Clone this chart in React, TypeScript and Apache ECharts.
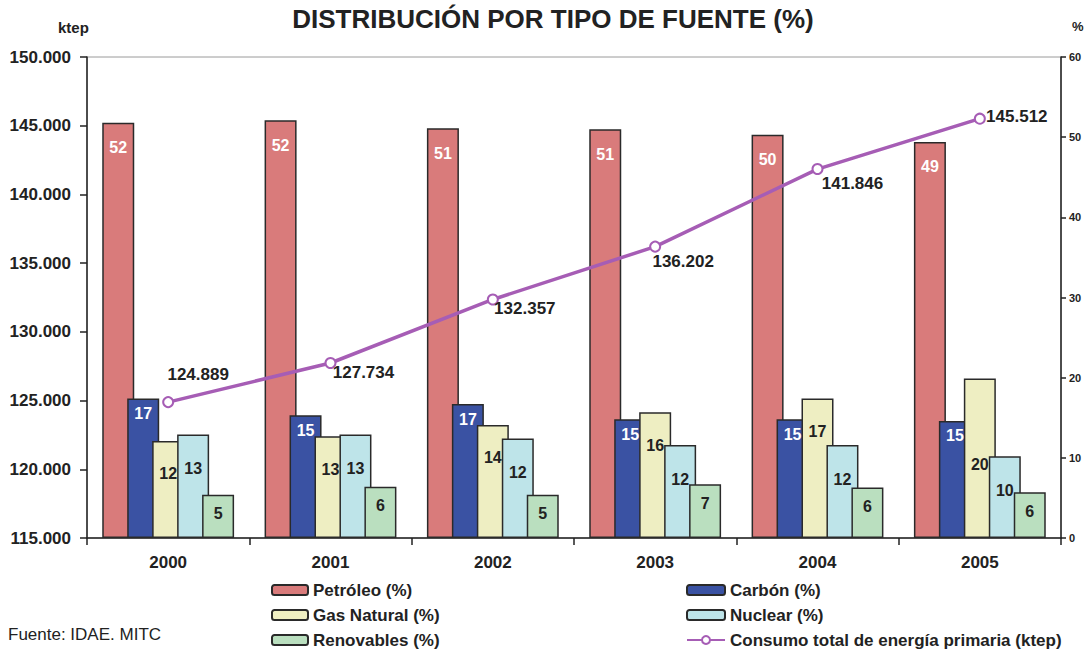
import React, { useEffect, useRef } from 'react';
import * as echarts from 'echarts';

const years = ['2000', '2001', '2002', '2003', '2004', '2005'];
const petroleo = [51.8, 52.1, 51.1, 51.0, 50.3, 49.4];
const carbon = [17.4, 15.3, 16.7, 14.8, 14.8, 14.6];
const gasNatural = [12.1, 12.7, 14.1, 15.7, 17.4, 19.9];
const nuclear = [12.9, 12.9, 12.4, 11.6, 11.6, 10.2];
const renovables = [5.4, 6.4, 5.4, 6.7, 6.3, 5.7];
const consumo = [124889, 127734, 132357, 136202, 141846, 145512];

const leftTicks = { min: 115000, max: 150000, interval: 5000 };
const rightTicks = { min: 0, max: 60, interval: 10 };

const FONT = '"Liberation Sans", Arial, Helvetica, sans-serif';
const INK = '#222';

const fmtThousands = (v: number) => {
  const s = String(Math.round(v));
  return s.replace(/\B(?=(\d{3})+(?!\d))/g, '.');
};

const lineLabelOffsets: [number, number][] = [
  [30, -28],
  [33, 10],
  [32, 9],
  [28, 15],
  [35, 14],
  [37, -2],
];

export default function App() {
  const ref = useRef<HTMLDivElement>(null);

  useEffect(() => {
    if (!ref.current) return;
    const chart = echarts.init(ref.current, undefined, { renderer: 'svg' });

    const barBase = (name: string, data: number[], color: string, labelColor: string, labelDist: number) => ({
      name,
      type: 'bar',
      yAxisIndex: 1,
      barWidth: 32,
      barGap: '-22%',
      barCategoryGap: '18%',
      data,
      itemStyle: { color, borderColor: '#2a2a2a', borderWidth: 1.5 },
      label: {
        show: true,
        position: 'insideTop',
        distance: labelDist,
        color: labelColor,
        fontFamily: FONT,
        fontSize: 16,
        fontWeight: 'bold',
        formatter: (p: any) => String(Math.round(p.value)),
      },
    });

    const gasSeries: any = barBase('Gas Natural (%)', gasNatural, '#EEEEC2', INK, 25);
    gasSeries.data = gasNatural.map((v, i) =>
      i === gasNatural.length - 1 ? { value: v, label: { position: 'inside', offset: [0, 6] } } : v
    );

    const legendText = { fontFamily: FONT, fontSize: 17, fontWeight: 'bold', color: INK, lineHeight: 18 };

    const option: any = {
      animation: false,
      backgroundColor: '#ffffff',
      textStyle: { fontFamily: FONT },
      grid: {
        left: 87,
        right: 29,
        top: 57,
        bottom: 113,
        show: true,
        borderColor: '#9a9a9a',
        borderWidth: 1,
        backgroundColor: 'transparent',
      },
      graphic: [
        {
          type: 'text',
          x: 553,
          y: 6,
          style: {
            text: 'DISTRIBUCIÓN POR TIPO DE FUENTE (%)',
            fill: INK,
            font: `bold 26px ${FONT}`,
            align: 'center',
          },
        },
        {
          type: 'text',
          x: 58,
          y: 20,
          style: { text: 'ktep', fill: INK, font: `bold 15px ${FONT}` },
        },
        {
          type: 'text',
          x: 1072,
          y: 20,
          style: { text: '%', fill: INK, font: `bold 13px ${FONT}` },
        },
        {
          type: 'text',
          x: 8,
          y: 626,
          style: { text: 'Fuente: IDAE. MITC', fill: INK, font: `17px ${FONT}` },
        },
      ],
      legend: [
        {
          orient: 'vertical',
          left: 271,
          top: 581,
          height: 120,
          padding: 0,
          itemWidth: 36,
          itemHeight: 10,
          itemGap: 7,
          data: ['Petróleo (%)', 'Gas Natural (%)', 'Renovables (%)'],
          textStyle: legendText,
        },
        {
          orient: 'vertical',
          left: 686,
          top: 581,
          height: 120,
          padding: 0,
          itemWidth: 38,
          itemHeight: 10,
          itemGap: 7,
          data: ['Carbón (%)', 'Nuclear (%)', 'Consumo total de energía primaria (ktep)'],
          textStyle: legendText,
        },
      ],
      xAxis: {
        type: 'category',
        data: years,
        boundaryGap: true,
        axisLine: { lineStyle: { color: INK, width: 1.5 } },
        axisTick: { show: true, length: 7, lineStyle: { color: INK, width: 1.5 } },
        axisLabel: { color: INK, fontFamily: FONT, fontSize: 17, fontWeight: 'bold', margin: 16 },
        splitLine: { show: false },
      },
      yAxis: [
        {
          type: 'value',
          position: 'left',
          min: leftTicks.min,
          max: leftTicks.max,
          interval: leftTicks.interval,
          axisLine: { show: true, lineStyle: { color: INK, width: 1.5 } },
          axisTick: { show: true, length: 7, lineStyle: { color: INK, width: 1.5 } },
          axisLabel: {
            color: INK,
            fontFamily: FONT,
            fontSize: 17,
            fontWeight: 'bold',
            margin: 16,
            formatter: (v: number) => fmtThousands(v),
          },
          splitLine: { show: false },
        },
        {
          type: 'value',
          position: 'right',
          min: rightTicks.min,
          max: rightTicks.max,
          interval: rightTicks.interval,
          axisLine: { show: true, lineStyle: { color: INK, width: 1.5 } },
          axisTick: { show: true, length: 5, lineStyle: { color: INK, width: 1.5 } },
          axisLabel: { color: INK, fontFamily: FONT, fontSize: 11, fontWeight: 'bold', margin: 8 },
          splitLine: { show: false },
        },
      ],
      series: [
        barBase('Petróleo (%)', petroleo, '#D97B7B', '#ffffff', 17),
        barBase('Carbón (%)', carbon, '#3A52A3', '#ffffff', 7),
        gasSeries,
        barBase('Nuclear (%)', nuclear, '#BEE4E9', INK, 26),
        barBase('Renovables (%)', renovables, '#BADFBF', INK, 11),
        {
          name: 'Consumo total de energía primaria (ktep)',
          type: 'line',
          yAxisIndex: 0,
          z: 10,
          data: consumo.map((v, i) => ({
            value: v,
            label: { offset: lineLabelOffsets[i] },
          })),
          lineStyle: { color: '#A65DB5', width: 3.5 },
          itemStyle: { color: '#ffffff', borderColor: '#A65DB5', borderWidth: 2 },
          symbol: 'circle',
          symbolSize: 10,
          label: {
            show: true,
            position: 'inside',
            align: 'center',
            verticalAlign: 'middle',
            color: INK,
            fontFamily: FONT,
            fontSize: 17,
            fontWeight: 'bold',
            formatter: (p: any) => fmtThousands(p.value),
          },
        },
      ],
    };

    chart.setOption(option);
    return () => chart.dispose();
  }, []);

  return (
    <div
      ref={ref}
      style={{ position: 'fixed', left: 0, top: 0, width: 1090, height: 651, background: '#fff' }}
    />
  );
}
